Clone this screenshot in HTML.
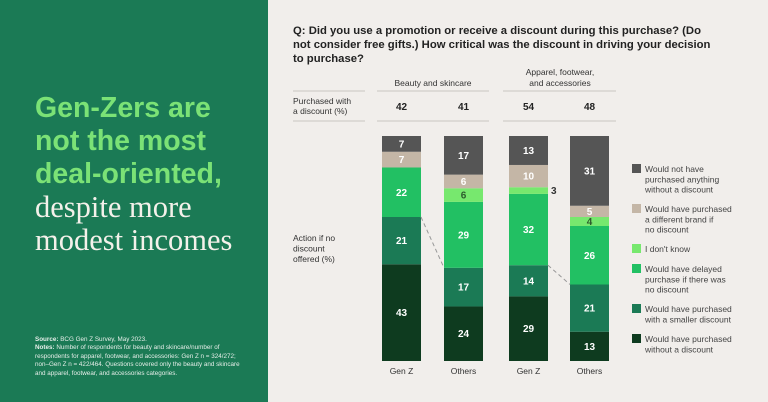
<!DOCTYPE html>
<html><head><meta charset="utf-8"><style>
html,body{margin:0;padding:0;width:768px;height:402px;overflow:hidden;background:#f1eeeb;font-family:"Liberation Sans",sans-serif}
#left{position:absolute;left:0;top:0;width:268px;height:402px;background:#1b7a55}
#title{position:absolute;left:35px;top:92px}
.g{display:block;color:#7be276;font-family:"Liberation Sans",sans-serif;font-weight:bold;font-size:28.5px;line-height:33px}
.w{display:block;color:#f4f1ea;font-family:"Liberation Serif",serif;font-size:30.5px;line-height:33px}
#notes{position:absolute;left:35px;top:336px;width:210px;font-size:6.3px;line-height:8.4px;color:#e6eee9}
svg{position:absolute;left:0;top:0}
</style></head><body>
<div id="left">
 <div id="title"><span class="g">Gen-Zers are<br>not the most<br>deal-oriented,</span><span class="w">despite more<br>modest incomes</span></div>
 <div id="notes"><b>Source:</b> BCG Gen Z Survey, May 2023.<br><b>Notes:</b> Number of respondents for beauty and skincare/number of respondents for apparel, footwear, and accessories: Gen Z n = 324/272; non–Gen Z n = 422/464. Questions covered only the beauty and skincare and apparel, footwear, and accessories categories.</div>
</div>
<svg id="chart" width="768" height="402" font-family="Liberation Sans, sans-serif"></svg>
<script>
const barLabels=["Gen Z","Others","Gen Z","Others"];
const purchased=[42,41,54,48];
const withoutDiscount=[43,24,29,13];
const smallerDiscount=[21,17,14,21];
const delayed=[22,29,32,26];
const dontKnow=[0,6,3,4];
const differentBrand=[7,6,10,5];
const nothing=[7,17,13,31];
const seriesNames=["Would have purchased without a discount","Would have purchased with a smaller discount","Would have delayed purchase if there was no discount","I don't know","Would have purchased a different brand if no discount","Would not have purchased anything without a discount"];
const series=[withoutDiscount,smallerDiscount,delayed,dontKnow,differentBrand,nothing];
const colors=["#0e3b1f","#1b7a55","#22c063","#77e86e","#c4b6a6","#555555"];
const legendLines=[["Would not have","purchased anything","without a discount"],["Would have purchased","a different brand if","no discount"],["I don't know"],["Would have delayed","purchase if there was","no discount"],["Would have purchased","with a smaller discount"],["Would have purchased","without a discount"]];
const svg=document.getElementById('chart');const NS="http://www.w3.org/2000/svg";
function mk(t,a,txt){const e=document.createElementNS(NS,t);for(const k in a)e.setAttribute(k,a[k]);if(txt!==undefined)e.textContent=txt;svg.appendChild(e);return e;}
const barX=[382,444,509,570],barW=39,topY=136,botY=361;
function yS(v,tot){return botY-(botY-topY)*v/tot;}
const q=["Q: Did you use a promotion or receive a discount during this purchase? (Do","not consider free gifts.) How critical was the discount in driving your decision","to purchase?"];
q.forEach((l,i)=>{const t=mk('text',{x:293,y:34+i*14,'font-size':11.3,'font-weight':'bold',fill:'#222'},l);

});
let t=mk('text',{x:433,y:86,'font-size':8.5,fill:'#333','text-anchor':'middle'},"Beauty and skincare");


t=mk('text',{x:560,y:75,'font-size':8.5,fill:'#333','text-anchor':'middle'},"Apparel, footwear,");


t=mk('text',{x:560,y:86,'font-size':8.5,fill:'#333','text-anchor':'middle'},"and accessories");


[[293,365],[377,489],[503,616]].forEach(s=>{[91,121].forEach(y=>{const l=mk('line',{x1:s[0],x2:s[1],y1:y,y2:y,stroke:'#c9c6c2','stroke-width':1});

});});
t=mk('text',{x:293,y:104,'font-size':8.5,fill:'#333'},"Purchased with");


t=mk('text',{x:293,y:114,'font-size':8.5,fill:'#333'},"a discount (%)");


["Action if no","discount","offered (%)"].forEach((l,i)=>{const e=mk('text',{x:293,y:241+i*10.5,'font-size':8.5,fill:'#333'},l);

});
barLabels.forEach((lab,b)=>{
 const cx=barX[b]+barW/2;
 const pv=mk('text',{x:cx,y:110,'font-size':10,'font-weight':'bold',fill:'#222','text-anchor':'middle'},purchased[b]);
 
 
 const tot=series.reduce((s,a)=>s+a[b],0);let cum=0;
 series.forEach((arr,si)=>{const v=arr[b];if(!v)return;
  const y1=yS(cum+v,tot),y0=yS(cum,tot);
  const r=mk('rect',{x:barX[b],y:y1,width:barW,height:y0-y1,fill:colors[si]});
  
  
  let lx=cx,fill='#fff',anchor='middle';
  if(v<4){lx=barX[b]+barW+3;fill='#333';anchor='start';}
  if(si===3&&v>=4){fill='#2d5a2d';lx=cx;anchor='middle';}
  const lt=mk('text',{x:lx,y:(y0+y1)/2+3.5,'font-size':10,'font-weight':'bold',fill:fill,'text-anchor':anchor},v);
  
  
  cum+=v;});
 const xl=mk('text',{x:cx,y:374,'font-size':8.5,fill:'#333','text-anchor':'middle'},lab);
 
 
});
[[0,1],[2,3]].forEach(p=>{
 const a=p[0],b=p[1];
 const ta=series.reduce((s,x)=>s+x[a],0),tb=series.reduce((s,x)=>s+x[b],0);
 const l=mk('line',{x1:barX[a]+barW,y1:yS(withoutDiscount[a]+smallerDiscount[a],ta),x2:barX[b],y2:yS(withoutDiscount[b]+smallerDiscount[b],tb),stroke:'#999','stroke-width':1,'stroke-dasharray':'4,3'});
 
 
});
const legY=[165,205,245,265,305,335];
legendLines.forEach((lines,i)=>{
 const ci=5-i;
 const r=mk('rect',{x:632,y:legY[i]-1,width:9,height:9,fill:colors[ci]});
 
 
 lines.forEach((l,j)=>{const e=mk('text',{x:645,y:legY[i]+7+j*10.3,'font-size':8.5,fill:'#444'},l);
 
 });
});
</script>
</body></html>
